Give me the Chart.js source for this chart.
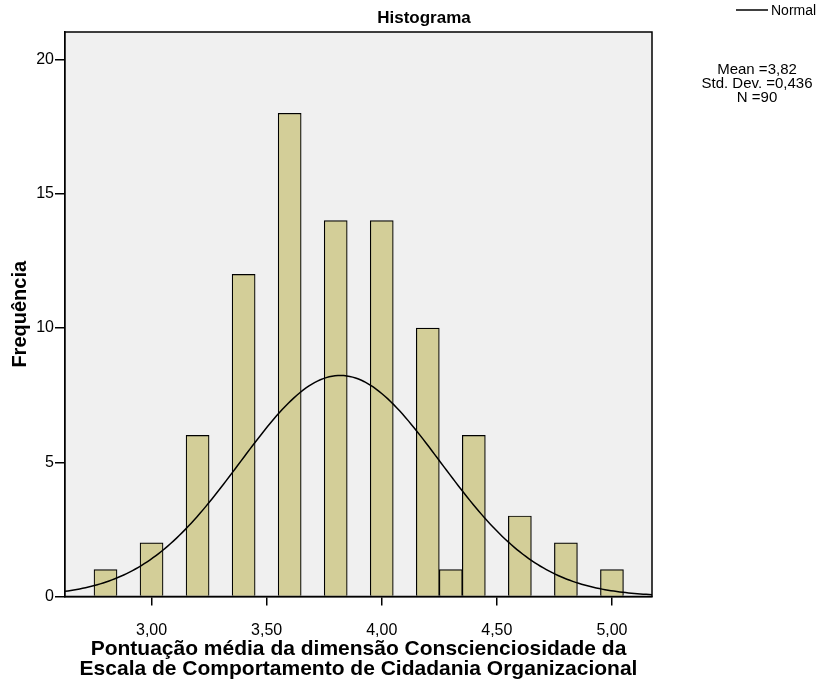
<!DOCTYPE html>
<html>
<head>
<meta charset="utf-8">
<script src="https://cdn.jsdelivr.net/npm/chart.js@4"></script>
<style>
  body { margin: 0; background: #fff; }
  canvas { display: block; }
</style>
</head>
<body>
<canvas id="histograma" width="820" height="686"></canvas>
<script>
// Frequências por classe (largura 0,1)
var binCenters = [2.8, 3.0, 3.2, 3.4, 3.6, 3.8, 4.0, 4.2, 4.3, 4.4, 4.6, 4.8, 5.0];
var frequencies = [1, 2, 6, 12, 18, 14, 14, 10, 1, 6, 3, 2, 1];
var xTickValues = [3.0, 3.5, 4.0, 4.5, 5.0];
var yTickValues = [0, 5, 10, 15, 20];
var meanValue = 3.82;
var stdDev = 0.436;
var nCases = 90;
var binWidth = 0.1;
var xMin = 2.624;
var xMax = 5.174;
var yMax = 21.03;

var FONT = "'Liberation Sans', Arial, sans-serif";

// Curva normal com a média e desvio padrão da amostra
var curve = [];
for (var i = 0; i <= 200; i++) {
  var x = xMin + (xMax - xMin) * i / 200;
  var z = (x - meanValue) / stdDev;
  var y = nCases * binWidth * Math.exp(-z * z / 2) / (stdDev * Math.sqrt(2 * Math.PI));
  curve.push({ x: x, y: y });
}

var bars = binCenters.map(function (c, i) {
  return { x: c, y: frequencies[i] };
});

// Fundo cinza, moldura e textos laterais
var moldura = {
  id: "moldura",
  beforeDatasetsDraw: function (chart) {
    var a = chart.chartArea;
    var ctx = chart.ctx;
    ctx.save();
    ctx.fillStyle = "#f0f0f0";
    ctx.fillRect(a.left, a.top, a.right - a.left, a.bottom - a.top);
    ctx.restore();
  },
  afterDraw: function (chart) {
    var a = chart.chartArea;
    var ctx = chart.ctx;
    ctx.save();
    ctx.strokeStyle = "#000";
    ctx.lineWidth = 1.5;
    ctx.strokeRect(a.left, a.top, a.right - a.left, a.bottom - a.top);

    ctx.fillStyle = "#000";
    ctx.textBaseline = "middle";
    ctx.textAlign = "center";
    ctx.font = "bold 17px " + FONT;
    ctx.fillText("Histograma", 424, 18);

    // legenda
    ctx.lineWidth = 1.5;
    ctx.beginPath();
    ctx.moveTo(736, 10);
    ctx.lineTo(768, 10);
    ctx.stroke();
    ctx.textAlign = "left";
    ctx.font = "14px " + FONT;
    ctx.fillText("Normal", 771, 11);

    ctx.textAlign = "center";
    ctx.font = "15px " + FONT;
    ctx.fillText("Mean =" + meanValue.toFixed(2).replace(".", ","), 757, 70);
    ctx.fillText("Std. Dev. =" + stdDev.toFixed(3).replace(".", ","), 757, 84);
    ctx.fillText("N =" + nCases, 757, 98);
    ctx.restore();
  }
};

var ctx = document.getElementById("histograma").getContext("2d");
var chart = new Chart(ctx, {
  type: "bar",
  data: {
    datasets: [
      {
        type: "line",
        label: "Normal",
        data: curve,
        borderColor: "#000",
        borderWidth: 1.5,
        pointRadius: 0,
        tension: 0,
        fill: false,
        order: 0
      },
      {
        type: "bar",
        label: "Frequência",
        data: bars,
        backgroundColor: "#d3ce98",
        borderColor: "#000",
        borderWidth: 1.2,
        barPercentage: 1,
        categoryPercentage: 1,
        grouped: false,
        order: 1
      }
    ]
  },
  options: {
    responsive: false,
    animation: false,
    layout: { padding: { top: 32, right: 168, left: 0, bottom: 0 } },
    plugins: {
      legend: { display: false },
      tooltip: { enabled: false }
    },
    scales: {
      x: {
        type: "linear",
        min: xMin,
        max: xMax,
        offset: false,
        afterBuildTicks: function (s) {
          s.ticks = xTickValues.map(function (v) { return { value: v }; });
        },
        afterFit: function (s) { s.height = 89.5; },
        grid: { offset: false, drawOnChartArea: false, drawTicks: true, tickLength: 9, color: "#000", lineWidth: 1.5 },
        border: { display: true, color: "#000", width: 1.5 },
        ticks: {
          color: "#000",
          font: { size: 16, family: FONT },
          padding: 15,
          maxRotation: 0,
          autoSkip: false,
          callback: function (v) { return Number(v).toFixed(2).replace(".", ","); }
        },
        title: {
          display: true,
          text: [
            "Pontuação média da dimensão Conscienciosidade da",
            "Escala de Comportamento de Cidadania Organizacional"
          ],
          color: "#000",
          font: { size: 21, weight: "bold", family: FONT, lineHeight: 0.93 },
          padding: { top: 0, bottom: 7.5 }
        }
      },
      y: {
        min: 0,
        max: yMax,
        afterBuildTicks: function (s) {
          s.ticks = yTickValues.map(function (v) { return { value: v }; });
        },
        afterFit: function (s) { s.width = 65; },
        grid: { drawOnChartArea: false, drawTicks: true, tickLength: 10, color: "#000", lineWidth: 1.5 },
        border: { display: true, color: "#000", width: 1.5 },
        ticks: {
          color: "#000",
          font: { size: 16, family: FONT },
          padding: 1
        },
        title: {
          display: true,
          text: "Frequência",
          color: "#000",
          font: { size: 20, weight: "bold", family: FONT, lineHeight: 1.2 },
          padding: { top: 8, bottom: 0 }
        }
      }
    }
  },
  plugins: [moldura]
});
</script>
</body>
</html>
